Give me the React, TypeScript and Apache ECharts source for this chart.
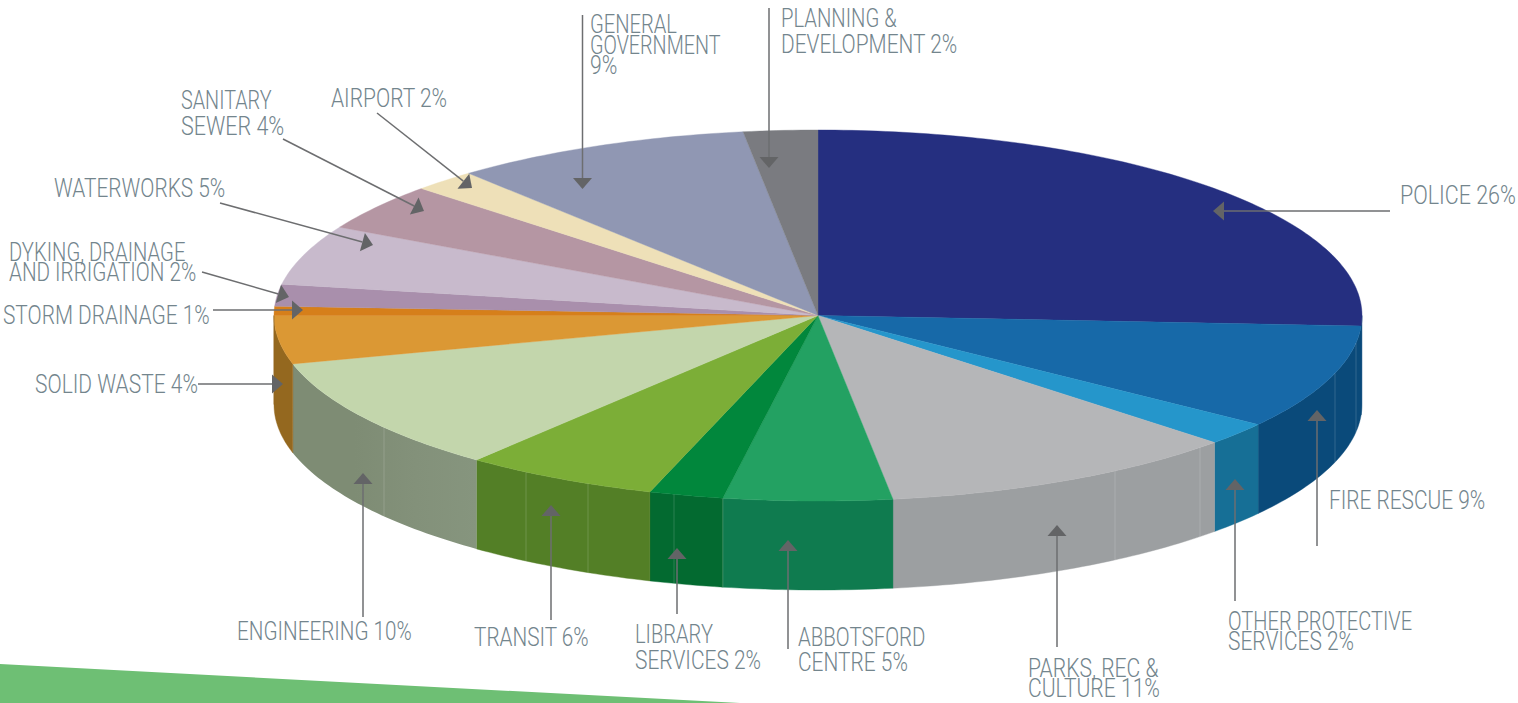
import React, { useEffect, useRef } from "react";
import * as echarts from "echarts";

const departments = ["Police","Fire Rescue","Other Protective Services","Parks, Rec & Culture","Abbotsford Centre","Library Services","Transit","Engineering","Solid Waste","Storm Drainage","Dyking, Drainage and Irrigation","Waterworks","Sanitary Sewer","Airport","General Government","Planning & Development"];
const shares = [25.9,9.1,2.0,10.8,5.0,2.2,5.8,10.0,4.2,0.8,1.9,5.2,4.1,1.9,8.9,2.2];
const topColors = ["#252F80","#1769A8","#2596CB","#B5B6B8","#23A162","#01873C","#7CAE37","#C3D6AC","#DB9834","#D67F1A","#A98FAC","#C8BACC","#B596A3","#EEE0B8","#9097B3","#7A7B80"];
const wallColors = ["#0A4A7A","#0A4A7A","#166F96","#9C9FA1","#0F7B4F","#036A30","#537F26","#7E8C74","#94681F","#94681F","#A98FAC","#C8BACC","#B596A3","#EEE0B8","#9097B3","#7A7B80"];
const engineeringWallFade = ["#7E8C74", "#7E8C74", "#83917A", "#86957E"];
const seamXs = [1356,1335,1200,1115,723,674,588,526,384];

// [text, left, middle-y, horizontal squeeze]
const labelLines: [string, number, number, number][] = [
  ["PLANNING &",781,19,0.81],["DEVELOPMENT 2%",781,45,0.835],
  ["GENERAL",590,25,0.806],["GOVERNMENT",590,45,0.79],["9%",590,66,0.845],
  ["AIRPORT 2%",331,99,0.84],
  ["SANITARY",181,101,0.792],["SEWER 4%",181,126,0.861],
  ["WATERWORKS 5%",54,189,0.835],
  ["DYKING, DRAINAGE",9,253,0.808],["AND IRRIGATION 2%",9,273,0.826],
  ["STORM DRAINAGE 1%",3,316,0.835],
  ["SOLID WASTE 4%",35,385,0.84],
  ["ENGINEERING 10%",237,632,0.826],
  ["TRANSIT 6%",474,638,0.83],
  ["LIBRARY",635,635,0.804],["SERVICES 2%",635,661,0.838],
  ["ABBOTSFORD",798,638,0.819],["CENTRE 5%",798,663,0.837],
  ["PARKS, REC &",1028,669,0.845],["CULTURE 11%",1028,689,0.845],
  ["OTHER PROTECTIVE",1228,622,0.802],["SERVICES 2%",1228,642,0.838],
  ["FIRE RESCUE 9%",1329,501,0.835],
  ["POLICE 26%",1400,195,0.859],
];
// leader: start x, start y, tip x, tip y
const leaders: [number, number, number, number][] = [
  [1390,211,1213,211],[1317,546,1317,410],[1235,601,1235,479],[1057,647,1057,525],
  [788,649,788,540],[677,614,677,548],[551,620,551,505],[363,617,363,473],
  [198,384,283,384],[213,310,303,310],[202,272,289,297],[220,203,373,245],
  [283,139,424,211],[377,113,472,188],[582.5,15,582.5,189],[769,8,769,168],
];

const CX = 818, CY = 315.5, RX = 544, RY = 185.5, DEPTH = 89;
const ENGINEERING = 7;
const pt = (pct: number, dy = 0): number[] => {
  const a = (pct / 100) * Math.PI * 2;
  return [CX + RX * Math.sin(a), CY - RY * Math.cos(a) + dy];
};
const arcPts = (from: number, to: number, dy = 0): number[][] => {
  const out: number[][] = [];
  const n = Math.max(2, Math.ceil((to - from) * 4));
  for (let i = 0; i <= n; i++) out.push(pt(from + ((to - from) * i) / n, dy));
  return out;
};
const total = shares.reduce((a, b) => a + b, 0);
const startOf = (i: number) => (shares.slice(0, i).reduce((a, b) => a + b, 0) / total) * 100;

const renderSlice = (params: any) => {
  const i = params.dataIndex;
  const s = startOf(i);
  const e = startOf(i + 1);
  const children: any[] = [];
  const ws = Math.max(s, 25);
  const we = Math.min(e, 75);
  if (we > ws) {
    const top = arcPts(ws, we);
    const bottom = arcPts(ws, we, DEPTH).reverse();
    const fill = i === ENGINEERING
      ? new echarts.graphic.LinearGradient(0, 0, 1, 0, engineeringWallFade.map((color, k) => ({ offset: k / (engineeringWallFade.length - 1), color })))
      : wallColors[i];
    children.push({
      type: "polygon",
      shape: { points: top.concat(bottom) },
      style: { fill, stroke: i === ENGINEERING ? undefined : wallColors[i], lineWidth: 0.4 },
    });
  }
  children.push({
    type: "polygon",
    shape: { points: [[CX, CY] as number[]].concat(arcPts(s, e)) },
    style: { fill: topColors[i], stroke: topColors[i], lineWidth: 0.4 },
  });
  return { type: "group", children };
};

const rimY = (x: number) => {
  const u = (x - CX) / RX;
  return CY + RY * Math.sqrt(Math.max(0, 1 - u * u));
};

const buildGraphics = () => {
  const g: any[] = [
    { type: "polygon", z: 0, shape: { points: [[0, 664], [740, 703], [0, 703]] }, style: { fill: "#6EBF74" } },
  ];
  seamXs.forEach((x) => {
    const y = rimY(x);
    g.push({ type: "line", z: 5, shape: { x1: x, y1: y, x2: x, y2: y + DEPTH }, style: { stroke: "rgba(255,255,255,0.16)", lineWidth: 1 } });
  });
  leaders.forEach(([x1, y1, x2, y2]) => {
    const len = Math.hypot(x2 - x1, y2 - y1);
    const ux = (x2 - x1) / len, uy = (y2 - y1) / len;
    const bx = x2 - ux * 11, by = y2 - uy * 11;
    g.push({ type: "line", z: 6, shape: { x1, y1, x2: bx, y2: by }, style: { stroke: "#6D6E70", lineWidth: 1.5 } });
    g.push({ type: "polygon", z: 7, shape: { points: [[x2, y2], [bx - uy * 9.5, by + ux * 9.5], [bx + uy * 9.5, by - ux * 9.5]] }, style: { fill: "#636466" } });
  });
  labelLines.forEach(([text, x, y, squeeze]) => {
    g.push({
      type: "text", z: 8, x, y, scaleX: squeeze,
      style: { text, fill: "#73858D", fontFamily: "Roboto", fontWeight: 300, fontSize: 25, textAlign: "left", textVerticalAlign: "middle" },
    });
  });
  return g;
};

export default function App() {
  const ref = useRef<HTMLDivElement>(null);
  useEffect(() => {
    const chart = echarts.init(ref.current!, undefined, { renderer: "svg" });
    chart.setOption({
      animation: false,
      backgroundColor: "#FFFFFF",
      series: [{
        type: "custom",
        coordinateSystem: "none",
        silent: true,
        z: 2,
        data: departments.map((name, i) => ({ name, value: [shares[i]] })),
        renderItem: renderSlice,
      }],
      graphic: buildGraphics(),
    });
    return () => chart.dispose();
  }, []);
  return <div ref={ref} style={{ position: "fixed", left: 0, top: 0, width: 1518, height: 703 }} />;
}
